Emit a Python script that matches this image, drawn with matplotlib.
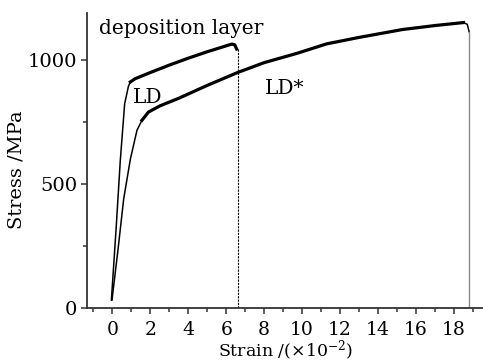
import matplotlib
matplotlib.use("Agg")
import matplotlib.pyplot as plt
from matplotlib.ticker import MultipleLocator

plt.rcParams['font.family'] = ['DejaVu Serif']
plt.rcParams['mathtext.fontset'] = 'dejavuserif'

# LD (deposition layer) curve, strain in 1e-2, stress in MPa
ld_strain = [-0.05, 0.2, 0.42, 0.65, 0.85, 0.95, 1.2, 2.0, 3.0, 4.0, 5.0, 6.0, 6.3, 6.45, 6.55]
ld_stress = [30, 320, 595, 824, 895, 912, 925, 950, 980, 1008, 1034, 1058, 1065, 1062, 1045]
ld_knee = 5
ld_break = 6.6

# LD* curve
lds_strain = [-0.02, 0.3, 0.6, 0.95, 1.3, 1.56, 1.9, 2.5, 3.5, 5.0, 6.6, 8.0, 9.7,
              11.3, 13.0, 15.3, 17.0, 18.5, 18.7, 18.8]
lds_stress = [30, 235, 440, 600, 717, 757, 790, 815, 846, 898, 950, 990, 1027,
              1066, 1092, 1124, 1140, 1152, 1145, 1115]
lds_knee = 5
lds_break = 18.8

fig = plt.figure(figsize=(4.83, 3.62), dpi=100)
ax = fig.add_axes([0.1807, 0.149, 0.8193, 0.816])

# elastic part thin, plastic part thick (noisy record)
ax.plot(ld_strain, ld_stress, color='black', lw=1.1)
ax.plot(ld_strain[ld_knee:], ld_stress[ld_knee:], color='black', lw=2.3)
ax.plot([ld_break, ld_break], [ld_stress[-1], 0], color='black', lw=0.8, ls=(0, (2, 1)))

ax.plot(lds_strain, lds_stress, color='black', lw=1.1)
ax.plot(lds_strain[lds_knee:-2], lds_stress[lds_knee:-2], color='black', lw=2.3)
ax.plot([lds_break, lds_break], [lds_stress[-1], 0], color='#888888', lw=1.0)

fs = 14.5
ax.text(-0.68, 1128, 'deposition layer', fontsize=fs, va='center', ha='left')
ax.text(1.1, 850, 'LD', fontsize=fs, va='center', ha='left')
ax.text(8.05, 886, 'LD*', fontsize=fs, va='center', ha='left')

ax.set_xlim(-1.32, 19.53)
ax.set_ylim(-2, 1192)
ax.xaxis.set_major_locator(MultipleLocator(2))
ax.xaxis.set_minor_locator(MultipleLocator(1))
ax.yaxis.set_major_locator(MultipleLocator(500))
ax.yaxis.set_minor_locator(MultipleLocator(250))

for s in ['top', 'right']:
    ax.spines[s].set_visible(False)
for s in ['left', 'bottom']:
    ax.spines[s].set_linewidth(1.3)
    ax.spines[s].set_color('#333333')

ax.tick_params(axis='both', which='major', direction='out', length=4, width=1.1,
               color='#333333', labelsize=14)
ax.tick_params(axis='both', which='minor', direction='out', length=3, width=1.1,
               color='#333333')
ax.tick_params(axis='x', which='major', pad=5, labelsize=13.5)
ax.tick_params(axis='y', which='major', pad=3)

ax.set_xlabel(r'Strain /($\times$10$^{-2}$)', fontsize=12.5, labelpad=0)
ax.set_ylabel('Stress /MPa', fontsize=14)
ax.yaxis.set_label_coords(-0.155, 0.47)

plt.savefig('out.png', dpi=100)
